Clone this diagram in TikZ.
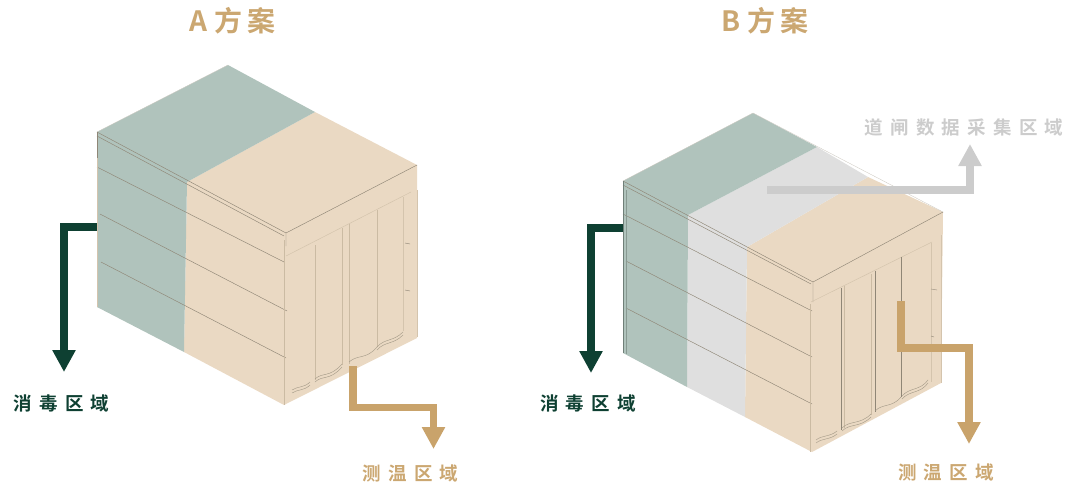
\documentclass[tikz,border=0pt]{standalone}
\usepackage{fontspec}
\setmainfont{Noto Sans CJK SC}[BoldFont={Noto Sans CJK SC Bold}]
\usetikzlibrary{arrows.meta}
\definecolor{zgreen}{HTML}{B0C3BC}
\definecolor{ztan}{HTML}{EAD9C3}
\definecolor{zgray}{HTML}{DFDFDF}
\definecolor{adark}{HTML}{0E4032}
\definecolor{atan}{HTML}{C9A36B}
\definecolor{agray}{HTML}{CCCCCC}
\definecolor{ltan}{HTML}{CBA771}
\definecolor{edgeg}{HTML}{6F7F78}
\definecolor{edget}{HTML}{8F8676}
\definecolor{paneltan}{HTML}{CBBBA3}
\newcommand{\kn}{\kern 7.2pt}
\tikzset{
  seam/.style={draw=edget,line width=0.45pt},
  softseam/.style={draw=edget!45!white,line width=0.35pt},
  paneledge/.style={draw=paneltan,line width=0.7pt},
  panelfaint/.style={draw=paneltan!70!ztan,line width=0.5pt},
  wavy edge/.style={draw=edget!80!ztan,line width=0.4pt},
  flow/.style={line width=7.4pt,line join=miter,line cap=butt,-{Triangle[width=22pt,length=22pt]}},
  label text/.style={font=\fontsize{18.5}{18.5}\selectfont\bfseries,inner sep=0pt,anchor=center},
  title text/.style={font=\fontsize{28}{28}\selectfont\bfseries,inner sep=0pt,anchor=center,text=ltan}
}
\begin{document}
\begin{tikzpicture}[x=1pt,y=-1pt]
\useasboundingbox (0,0) rectangle (1076,490);

% ---------- Box A ----------
\fill[ztan] (187,182) -- (315,112) -- (417,165) -- (417,338) -- (284,405) -- (184,352) -- cycle;
\fill[zgreen] (97,132) -- (228,65) -- (315,112) -- (187,182) -- (184,352) -- (97,307) -- cycle;
\draw[softseam] (97,132) -- (228,65);
\draw[seam] (417,165) -- (286,233);
\draw[seam] (97,132) -- (286,233) -- (286,246);
\draw[seam] (97,136) -- (284,236);
\draw[seam] (97,132) -- (97,158);
\draw[seam] (97,167) -- (284,262);
\draw[seam] (100,214) -- (287,311);
\draw[seam] (101,262) -- (286,358);
\draw[paneledge] (284,240) -- (284,405);
\draw[panelfaint] (286,256) -- (411,192);
\draw[panelfaint] (417,190) -- (417,337);
\draw[panelfaint] (97,158) -- (97,307);
\draw[paneledge] (315,245) -- (315,380);
\draw[paneledge] (342,228) -- (342,365);
\draw[paneledge] (349,224) -- (349,364);
\draw[paneledge] (377,210) -- (377,347);
\draw[panelfaint] (403,197) -- (403,331);
\draw[wavy edge] (315,379) .. controls (322,372) and (330,378) .. (342,364);
\draw[wavy edge] (315,382) .. controls (322,375) and (330,381) .. (342,367);
\draw[wavy edge] (349,362) .. controls (358,354) and (366,360) .. (377,347);
\draw[wavy edge] (377,347) .. controls (385,338) and (393,342) .. (403,332);
\draw[wavy edge] (377,350) .. controls (385,341) and (393,345) .. (403,335);
\draw[wavy edge] (292,390) .. controls (298,386) and (304,388) .. (310,382);
\draw[wavy edge] (292,393) .. controls (298,389) and (304,391) .. (310,385);
\draw[edget,line width=0.4pt] (405,243) -- (410,244) (405,290) -- (410,291);

% ---------- Box B ----------
\fill[ztan] (747,247) -- (868,177) -- (943,212) -- (941,383) -- (812,452) -- (745,417) -- cycle;
\fill[zgray] (688,215) -- (817,147) -- (868,177) -- (747,247) -- (745,417) -- (687,387) -- cycle;
\fill[zgreen] (623,181) -- (753,113) -- (817,147) -- (688,215) -- (687,387) -- (623,353) -- cycle;
\draw[softseam] (623,181) -- (753,113);
\draw[softseam] (753,113) -- (943,212);
\draw[seam] (943,212) -- (813,282);
\draw[seam] (623,181) -- (813,282) -- (813,302);
\draw[seam] (623,185) -- (811,284);
\draw[seam] (623,214) -- (812,311);
\draw[seam] (626,261) -- (812,357);
\draw[seam] (626,308) -- (812,404);
\draw[edgeg,line width=0.6pt] (623,181) -- (623,353);
\draw[edgeg!60!zgreen,line width=0.5pt] (626,190) -- (626,354);
\draw[paneledge] (810,304) -- (810,452);
\draw[panelfaint] (811,302) -- (932,242);
\draw[panelfaint] (941,235) -- (941,383);
\draw[edget,line width=0.7pt] (841,288) -- (841,430);
\draw[paneledge] (844,286) -- (844,428);
\draw[paneledge] (871,274) -- (871,415);
\draw[edget,line width=0.6pt] (875,271) -- (875,412);
\draw[edget,line width=0.6pt] (901,257) -- (901,397);
\draw[panelfaint] (931,243) -- (931,382);
\draw[wavy edge] (842,428) .. controls (850,420) and (860,425) .. (871,414);
\draw[wavy edge] (842,431) .. controls (850,423) and (860,428) .. (871,417);
\draw[wavy edge] (875,411) .. controls (883,403) and (892,408) .. (901,397);
\draw[wavy edge] (902,396) .. controls (910,387) and (920,391) .. (928,380);
\draw[wavy edge] (902,399) .. controls (910,390) and (920,394) .. (928,383);
\draw[wavy edge] (816,440) .. controls (822,435) and (830,437) .. (837,431);
\draw[wavy edge] (816,443) .. controls (822,438) and (830,440) .. (837,434);
\draw[edget,line width=0.4pt] (931,289) -- (937,290) (931,336) -- (934,337);

% ---------- Titles ----------
\node[title text] (titleA) at (232.5,21) {A\kern 7pt 方\kern 5pt 案};
\node[title text] (titleB) at (765,21) {B\kern 7pt 方\kern 5pt 案};

% ---------- Labels ----------
\node[label text,text=adark] (disA) at (61.5,403) {消\kn 毒\kn 区\kn 域};
\node[label text,text=adark] (disB) at (588,403) {消\kn 毒\kn 区\kn 域};
\node[label text,text=ltan] (tempA) at (410.5,473) {测\kn 温\kn 区\kn 域};
\node[label text,text=ltan] (tempB) at (946,472) {测\kn 温\kn 区\kn 域};
\node[label text,text=agray] (gate) at (964,127) {道\kn 闸\kn 数\kn 据\kn 采\kn 集\kn 区\kn 域};

% ---------- Arrow waypoints ----------
\coordinate (a1s) at (97,227);   \coordinate (a1m) at (64,227);   \coordinate (a1e) at (64,372);
\coordinate (a2s) at (353,366);  \coordinate (a2m) at (353,407.5); \coordinate (a2n) at (433.5,407.5); \coordinate (a2e) at (433.5,449);
\coordinate (b1s) at (623,228);  \coordinate (b1m) at (591,228);  \coordinate (b1e) at (591,373);
\coordinate (b2s) at (901,301);  \coordinate (b2m) at (901,348);  \coordinate (b2n) at (969,348);   \coordinate (b2e) at (969,444);
\coordinate (b3s) at (767,190);  \coordinate (b3m) at (970,190);  \coordinate (b3e) at (970,144);

% ---------- Arrows ----------
\draw[flow,draw=adark] (a1s) -- (a1m) -- (a1e);
\draw[flow,draw=atan] (a2s) -- (a2m) -- (a2n) -- (a2e);
\draw[flow,draw=adark] (b1s) -- (b1m) -- (b1e);
\draw[flow,draw=atan] (b2s) -- (b2m) -- (b2n) -- (b2e);
\draw[flow,draw=agray] (b3s) -- (b3m) -- (b3e);
\end{tikzpicture}
\end{document}
